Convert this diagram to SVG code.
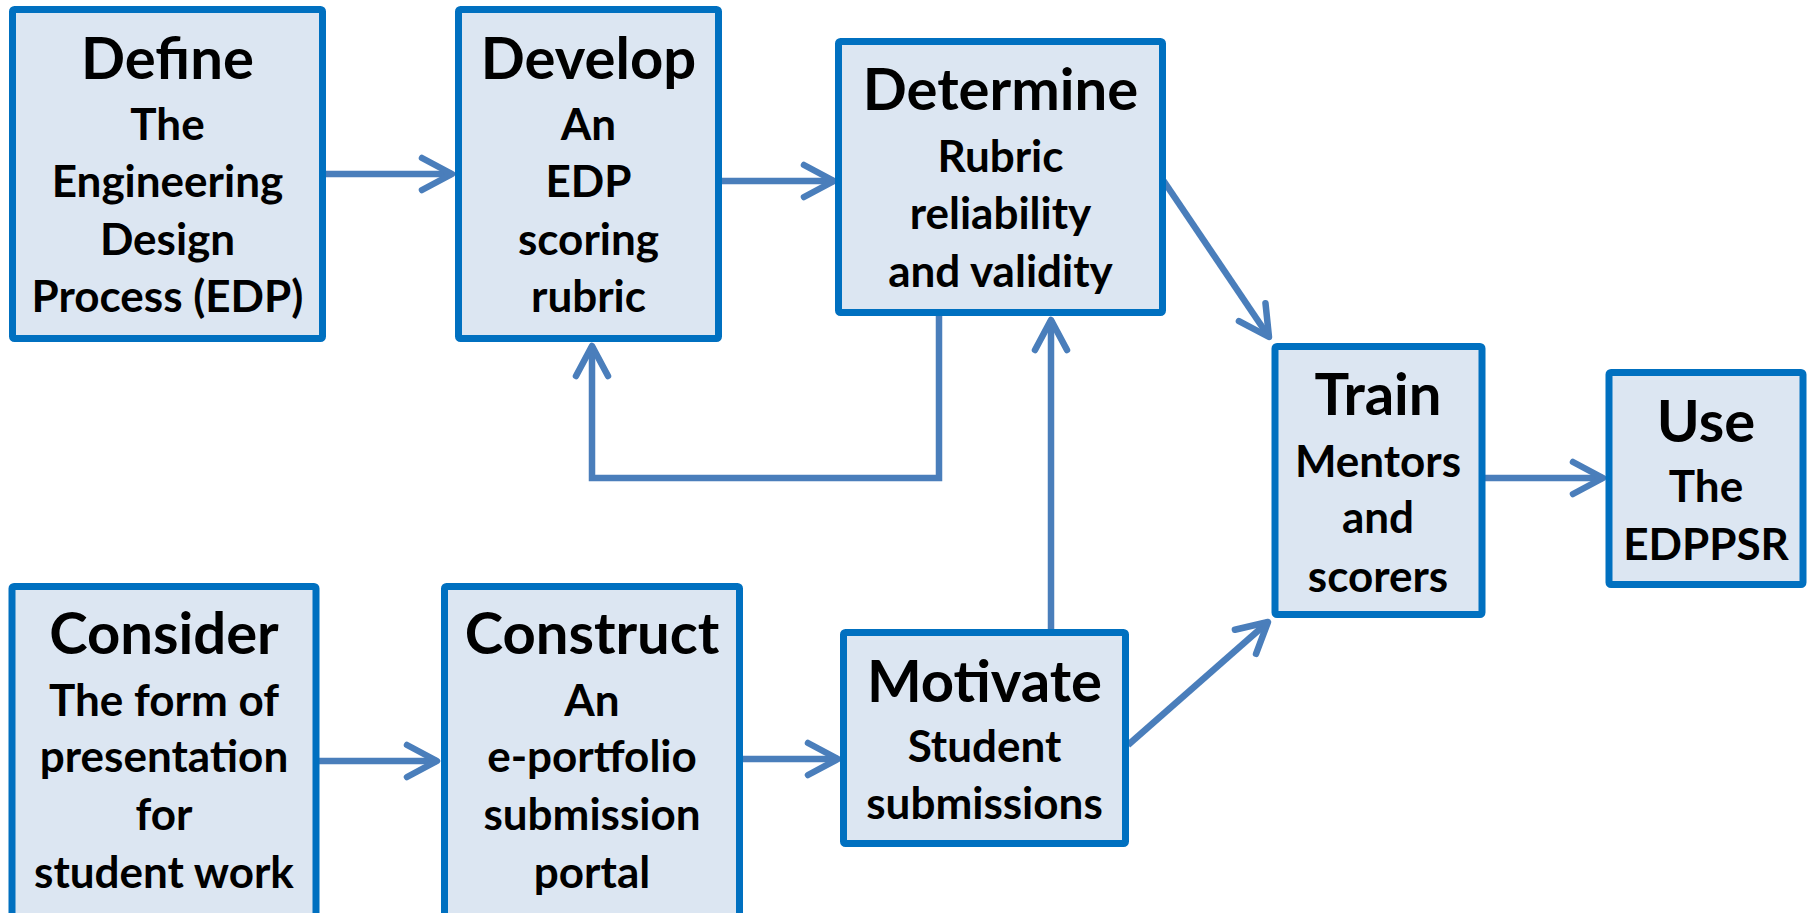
<svg xmlns="http://www.w3.org/2000/svg" width="1813" height="913" viewBox="0 0 1813 913">
<style>
.box{fill:#DCE6F2;stroke:#0070C0;stroke-width:7}
.t{font-family:Lato,"Open Sans",sans-serif;font-weight:700;fill:#000;text-anchor:middle}
.h{font-size:58px}
.s{font-size:44px}
.c{fill:none;stroke:#4A7EBB;stroke-width:6.5}
</style>
<defs>
<marker id="arr" markerUnits="userSpaceOnUse" markerWidth="40" markerHeight="40" refX="0" refY="0" orient="auto" overflow="visible">
<path d="M-30,-16 L0,0 L-30,16" fill="none" stroke="#4A7EBB" stroke-width="6.5" stroke-linecap="round" stroke-linejoin="round"/>
</marker>
</defs>
<rect width="1813" height="913" fill="#fff"/>
<g id="connectors">
<path class="c" d="M326,174 H452" marker-end="url(#arr)"/>
<path class="c" d="M722,181 H834" marker-end="url(#arr)"/>
<path class="c" d="M1163,180 L1269,337" marker-end="url(#arr)"/>
<path class="c" d="M939,316 V478 H592 V346" marker-end="url(#arr)"/>
<path class="c" d="M1051,629 V320" marker-end="url(#arr)"/>
<path class="c" d="M1128,745 L1268,622" marker-end="url(#arr)"/>
<path class="c" d="M1485,478 H1603" marker-end="url(#arr)"/>
<path class="c" d="M319,761 H437" marker-end="url(#arr)"/>
<path class="c" d="M743,759 H838" marker-end="url(#arr)"/>
</g>
<g id="define">
<rect class="box" x="12.5" y="9.5" width="310" height="329" rx="2"/>
<text class="t h" x="167.5" y="79">Define</text>
<text class="t s" x="167.5" y="140">The</text>
<text class="t s" x="167.5" y="197">Engineering</text>
<text class="t s" x="167.5" y="255">Design</text>
<text class="t s" x="167.5" y="312">Process (EDP)</text>
</g>
<g id="develop">
<rect class="box" x="458.5" y="9.5" width="260" height="329" rx="2"/>
<text class="t h" x="588.5" y="79">Develop</text>
<text class="t s" x="588.5" y="140">An</text>
<text class="t s" x="588.5" y="197">EDP</text>
<text class="t s" x="588.5" y="255">scoring</text>
<text class="t s" x="588.5" y="312">rubric</text>
</g>
<g id="determine">
<rect class="box" x="838.5" y="41.5" width="324" height="271" rx="2"/>
<text class="t h" x="1000.5" y="110">Determine</text>
<text class="t s" x="1000.5" y="172">Rubric</text>
<text class="t s" x="1000.5" y="229">reliability</text>
<text class="t s" x="1000.5" y="287">and validity</text>
</g>
<g id="train">
<rect class="box" x="1275" y="346.5" width="207" height="268" rx="2"/>
<text class="t h" x="1378" y="415">Train</text>
<text class="t s" x="1378" y="477">Mentors</text>
<text class="t s" x="1378" y="533">and</text>
<text class="t s" x="1378" y="592">scorers</text>
</g>
<g id="use">
<rect class="box" x="1609" y="372.5" width="194" height="212" rx="2"/>
<text class="t h" x="1706" y="442">Use</text>
<text class="t s" x="1706" y="502">The</text>
<text class="t s" x="1706" y="560">EDPPSR</text>
</g>
<g id="consider">
<rect class="box" x="12" y="586.5" width="304" height="340" rx="2"/>
<text class="t h" x="164" y="654">Consider</text>
<text class="t s" x="164" y="716">The form of</text>
<text class="t s" x="164" y="772">presentation</text>
<text class="t s" x="164" y="830">for</text>
<text class="t s" x="164" y="888">student work</text>
</g>
<g id="construct">
<rect class="box" x="444.5" y="586.5" width="295" height="340" rx="2"/>
<text class="t h" x="592" y="654">Construct</text>
<text class="t s" x="592" y="716">An</text>
<text class="t s" x="592" y="772">e-portfolio</text>
<text class="t s" x="592" y="830">submission</text>
<text class="t s" x="592" y="888">portal</text>
</g>
<g id="motivate">
<rect class="box" x="843.5" y="632.5" width="282" height="211" rx="2"/>
<text class="t h" x="984.5" y="702">Motivate</text>
<text class="t s" x="984.5" y="762">Student</text>
<text class="t s" x="984.5" y="819">submissions</text>
</g>
</svg>
